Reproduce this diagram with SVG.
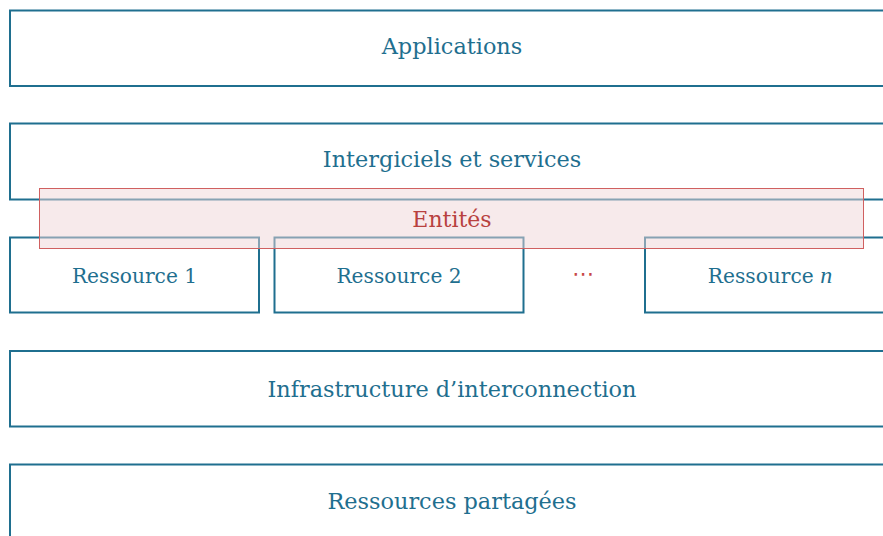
<svg xmlns="http://www.w3.org/2000/svg" width="883" height="536" viewBox="0 0 883 536">
<style>
.box{fill:#fff;stroke:#1f6f8f;stroke-width:2}
.lbl{font-family:"DejaVu Serif",serif;font-size:22.4px;fill:#1f6f8f;text-anchor:middle}
.rlbl{font-family:"DejaVu Serif",serif;font-size:20.2px;fill:#1f6f8f;text-anchor:middle}
.ent{fill:#efd5d7;fill-opacity:0.5;stroke:#d06060;stroke-width:1}
.elbl{font-family:"DejaVu Serif",serif;font-size:22px;fill:#b8413f;text-anchor:middle}
</style>
<rect width="883" height="536" fill="#fff"/>
<g id="applications"><rect class="box" x="10" y="10.5" width="884" height="75.5"/><text class="lbl" x="452" y="54">Applications</text></g>
<g id="intergiciels"><rect class="box" x="10" y="123.5" width="884" height="76"/><text class="lbl" x="452" y="167">Intergiciels et services</text></g>
<g id="ressource1"><rect class="box" x="10" y="237.5" width="249" height="75"/><text class="rlbl" x="134.5" y="283">Ressource 1</text></g>
<g id="ressource2"><rect class="box" x="274.5" y="237.5" width="249" height="75"/><text class="rlbl" x="399" y="283">Ressource 2</text></g>
<g id="dots"><text x="583" y="281" font-family="DejaVu Sans,sans-serif" font-size="22px" fill="#c84848" text-anchor="middle">⋯</text></g>
<g id="ressourcen"><rect class="box" x="645" y="237.5" width="250" height="75"/><text class="rlbl" x="770" y="283">Ressource <tspan font-family="Liberation Serif,serif" font-style="italic" font-size="24px">n</tspan></text></g>
<g id="entites"><rect class="ent" x="39.5" y="188.5" width="824" height="60"/><text class="elbl" x="452" y="227">Entités</text></g>
<g id="infrastructure"><rect class="box" x="10" y="351" width="884" height="75.5"/><text class="lbl" x="452" y="397">Infrastructure d’interconnection</text></g>
<g id="partagees"><rect class="box" x="10" y="464.5" width="884" height="80"/><text class="lbl" x="452" y="509">Ressources partagées</text></g>
<g id="connectors"></g>
</svg>
